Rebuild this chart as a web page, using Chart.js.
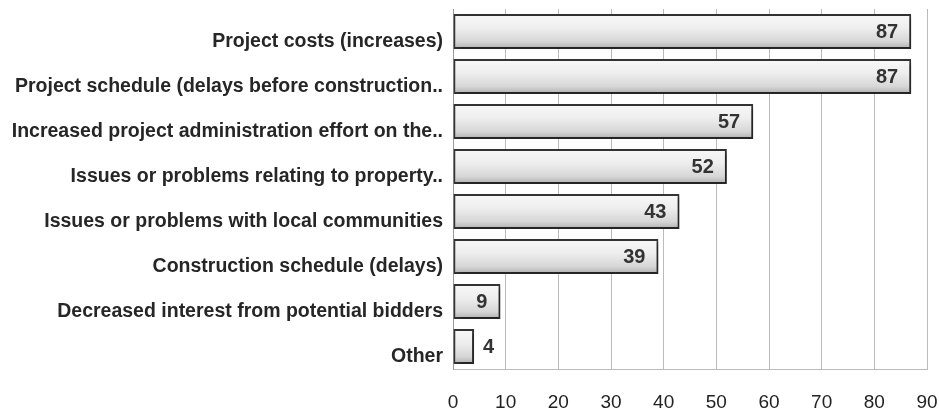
<!DOCTYPE html>
<html>
<head>
<meta charset="utf-8">
<script src="https://cdn.jsdelivr.net/npm/chart.js@4.4.1/dist/chart.umd.min.js"></script>
<style>
  html, body { margin: 0; padding: 0; background: #fff; }
  #wrap { width: 939px; height: 411px; }
</style>
</head>
<body>
<div id="wrap"><canvas id="myChart" width="939" height="411"></canvas></div>
<script>
var categories = [
  'Project costs (increases)',
  'Project schedule (delays before construction..',
  'Increased project administration effort on the..',
  'Issues or problems relating to property..',
  'Issues or problems with local communities',
  'Construction schedule (delays)',
  'Decreased interest from potential bidders',
  'Other'
];
var values = [87, 87, 57, 52, 43, 39, 9, 4];
var xTicks = [0, 10, 20, 30, 40, 50, 60, 70, 80, 90];

function barGradient(c) {
  var chart = c.chart;
  var ys = chart.scales.y;
  if (!ys || !chart.chartArea) return '#dddddd';
  var yc = ys.getPixelForValue(c.dataIndex);
  var h = 17;
  var g = chart.ctx.createLinearGradient(0, yc - h, 0, yc + h);
  g.addColorStop(0, '#f8f8f8');
  g.addColorStop(0.4, '#eeeeee');
  g.addColorStop(0.8, '#d6d6d6');
  g.addColorStop(1, '#b0b0b0');
  return g;
}

var shadowPlugin = {
  id: 'shadow',
  beforeDatasetsDraw: function(chart) {
    var ctx = chart.ctx;
    ctx.save();
    ctx.shadowColor = 'rgba(0,0,0,0.35)';
    ctx.shadowBlur = 4;
    ctx.shadowOffsetX = 3;
    ctx.shadowOffsetY = 3;
  },
  afterDatasetsDraw: function(chart) {
    chart.ctx.restore();
  }
};

var valueLabels = {
  id: 'valueLabels',
  afterDraw: function(chart) {
    var ctx = chart.ctx;
    var meta = chart.getDatasetMeta(0);
    ctx.save();
    ctx.font = 'bold 20px "Liberation Sans", Arial, sans-serif';
    ctx.fillStyle = '#333333';
    ctx.textBaseline = 'middle';
    meta.data.forEach(function(bar, i) {
      var v = values[i];
      if (v >= 9) {
        ctx.textAlign = 'right';
        ctx.fillText(String(v), bar.x - 13, bar.y + 1);
      } else {
        ctx.textAlign = 'left';
        ctx.fillText(String(v), bar.x + 9, bar.y + 1);
      }
    });
    ctx.restore();
  }
};

var ctx = document.getElementById('myChart');
var myChart = new Chart(ctx, {
  type: 'bar',
  data: {
    labels: categories,
    datasets: [{
      data: values,
      backgroundColor: barGradient,
      borderColor: '#333333',
      borderWidth: 2,
      borderSkipped: false,
      categoryPercentage: 1,
      barPercentage: 0.78
    }]
  },
  options: {
    indexAxis: 'y',
    responsive: false,
    animation: false,
    layout: { padding: { left: 0, right: 12, top: 9, bottom: 0 } },
    plugins: {
      legend: { display: false },
      tooltip: { enabled: false }
    },
    scales: {
      x: {
        min: 0,
        max: 90,
        afterBuildTicks: function(scale) {
          scale.ticks = xTicks.map(function(v) { return { value: v }; });
        },
        afterFit: function(scale) {
          scale.height = 42;
          scale.paddingLeft = 0;
          scale.paddingRight = 0;
        },
        grid: { color: '#bbbbbb', lineWidth: 1, drawTicks: false },
        border: { display: true, color: '#bbbbbb', width: 1 },
        ticks: {
          padding: 22,
          maxRotation: 0,
          color: '#222222',
          font: { family: '"Liberation Sans", Arial, sans-serif', size: 19 }
        }
      },
      y: {
        afterFit: function(scale) {
          scale.width = 453;
          scale.paddingTop = 0;
          scale.paddingBottom = 0;
        },
        grid: { display: false, drawTicks: false },
        border: { display: true, color: '#9a9a9a', width: 1 },
        ticks: {
          padding: 10,
          labelOffset: 10,
          color: '#262626',
          autoSkip: false,
          font: { family: '"Liberation Sans", Arial, sans-serif', size: 19.5, weight: 'bold' }
        }
      }
    }
  },
  plugins: [shadowPlugin, valueLabels]
});
</script>
</body>
</html>
